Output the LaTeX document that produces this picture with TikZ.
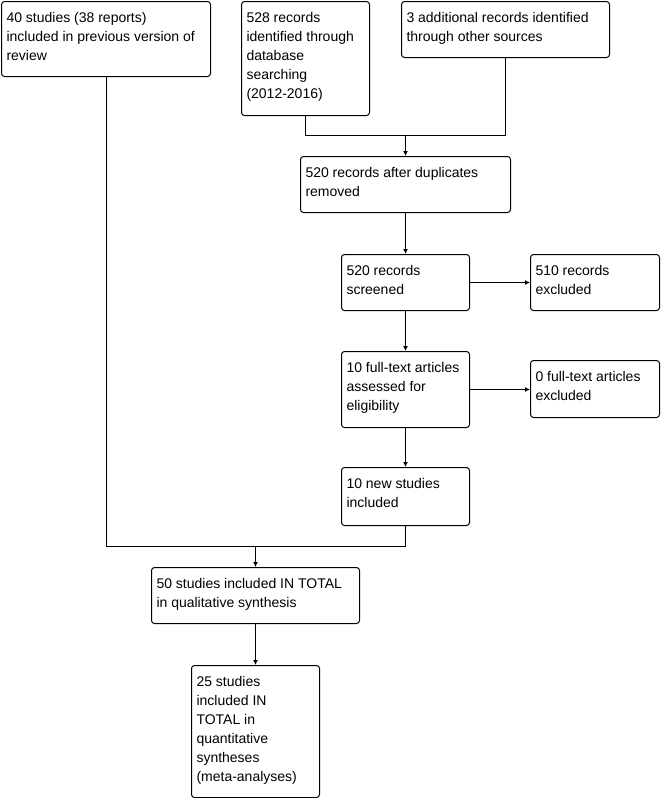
\documentclass[tikz,border=0pt]{standalone}
\usepackage{fontspec}
\setmainfont{Liberation Sans}
\usetikzlibrary{arrows.meta}
\tikzset{
  flowbox/.style={draw=black, line width=1pt, rounded corners=3pt, inner sep=0pt, anchor=north west, fill=white},
  flowline/.style={draw=black, line width=1pt},
  flowarrow/.style={flowline, -{Latex[length=5pt,width=5pt]}},
}
\newcommand{\boxtext}[3]{\hspace*{3pt}\parbox[c][#2pt][t]{#1pt}{\fontsize{14}{19}\selectfont\raggedright\vspace*{7.2pt}\strut #3}}
\begin{document}
\begin{tikzpicture}[x=1pt,y=-1pt]
\useasboundingbox (0,0) rectangle (662,798);
\node[flowbox, minimum width=209pt, minimum height=75pt] (b1) at (1,1)
  {\boxtext{202}{75}{40 studies (38 reports)\\included in previous version of\\review}};
\node[flowbox, minimum width=128pt, minimum height=114pt] (b2) at (241,1)
  {\boxtext{121}{114}{528 records\\identified through\\database\\searching\\(2012-2016)}};
\node[flowbox, minimum width=208pt, minimum height=56pt] (b3) at (401,1)
  {\boxtext{201}{56}{3 additional records identified\\through other sources}};
\node[flowbox, minimum width=210pt, minimum height=56pt] (b4) at (300,156)
  {\boxtext{203}{56}{520 records after duplicates\\removed}};
\node[flowbox, minimum width=128pt, minimum height=56pt] (b5) at (341,254)
  {\boxtext{121}{56}{520 records\\screened}};
\node[flowbox, minimum width=129pt, minimum height=56pt] (b6) at (530,254)
  {\boxtext{122}{56}{510 records\\excluded}};
\node[flowbox, minimum width=128pt, minimum height=76pt] (b7) at (341,351)
  {\boxtext{121}{76}{10 full-text articles\\assessed for\\eligibility}};
\node[flowbox, minimum width=129pt, minimum height=57pt] (b8) at (530,360)
  {\boxtext{122}{57}{0 full-text articles\\excluded}};
\node[flowbox, minimum width=128pt, minimum height=58pt] (b9) at (341,467)
  {\boxtext{121}{58}{10 new studies\\included}};
\node[flowbox, minimum width=208pt, minimum height=56pt] (b10) at (151,567)
  {\boxtext{201}{56}{50 studies included IN TOTAL\\in qualitative synthesis}};
\node[flowbox, minimum width=128pt, minimum height=132pt] (b11) at (191,665)
  {\boxtext{121}{132}{25 studies\\included IN\\TOTAL in\\quantitative\\syntheses\\(meta-analyses)}};
\path (b4.north) ++(0,-21) coordinate (j1);
\path (b10.north) ++(0,-21) coordinate (j2);
\draw[flowline] (b2.south) |- (j1);
\draw[flowline] (b3.south) |- (j1);
\draw[flowarrow] (j1) -- (b4.north);
\draw[flowarrow] (b4.south) -- (b4.south |- b5.north);
\draw[flowarrow] (b5.east) -- (b6.west);
\draw[flowarrow] (b5.south) -- (b7.north);
\draw[flowarrow] (b7.east) -- (b7.east -| b8.west);
\draw[flowarrow] (b7.south) -- (b9.north);
\draw[flowline] (b1.south) |- (j2);
\draw[flowline] (b9.south) |- (j2);
\draw[flowarrow] (j2) -- (b10.north);
\draw[flowarrow] (b10.south) -- (b11.north);
\end{tikzpicture}
\end{document}
